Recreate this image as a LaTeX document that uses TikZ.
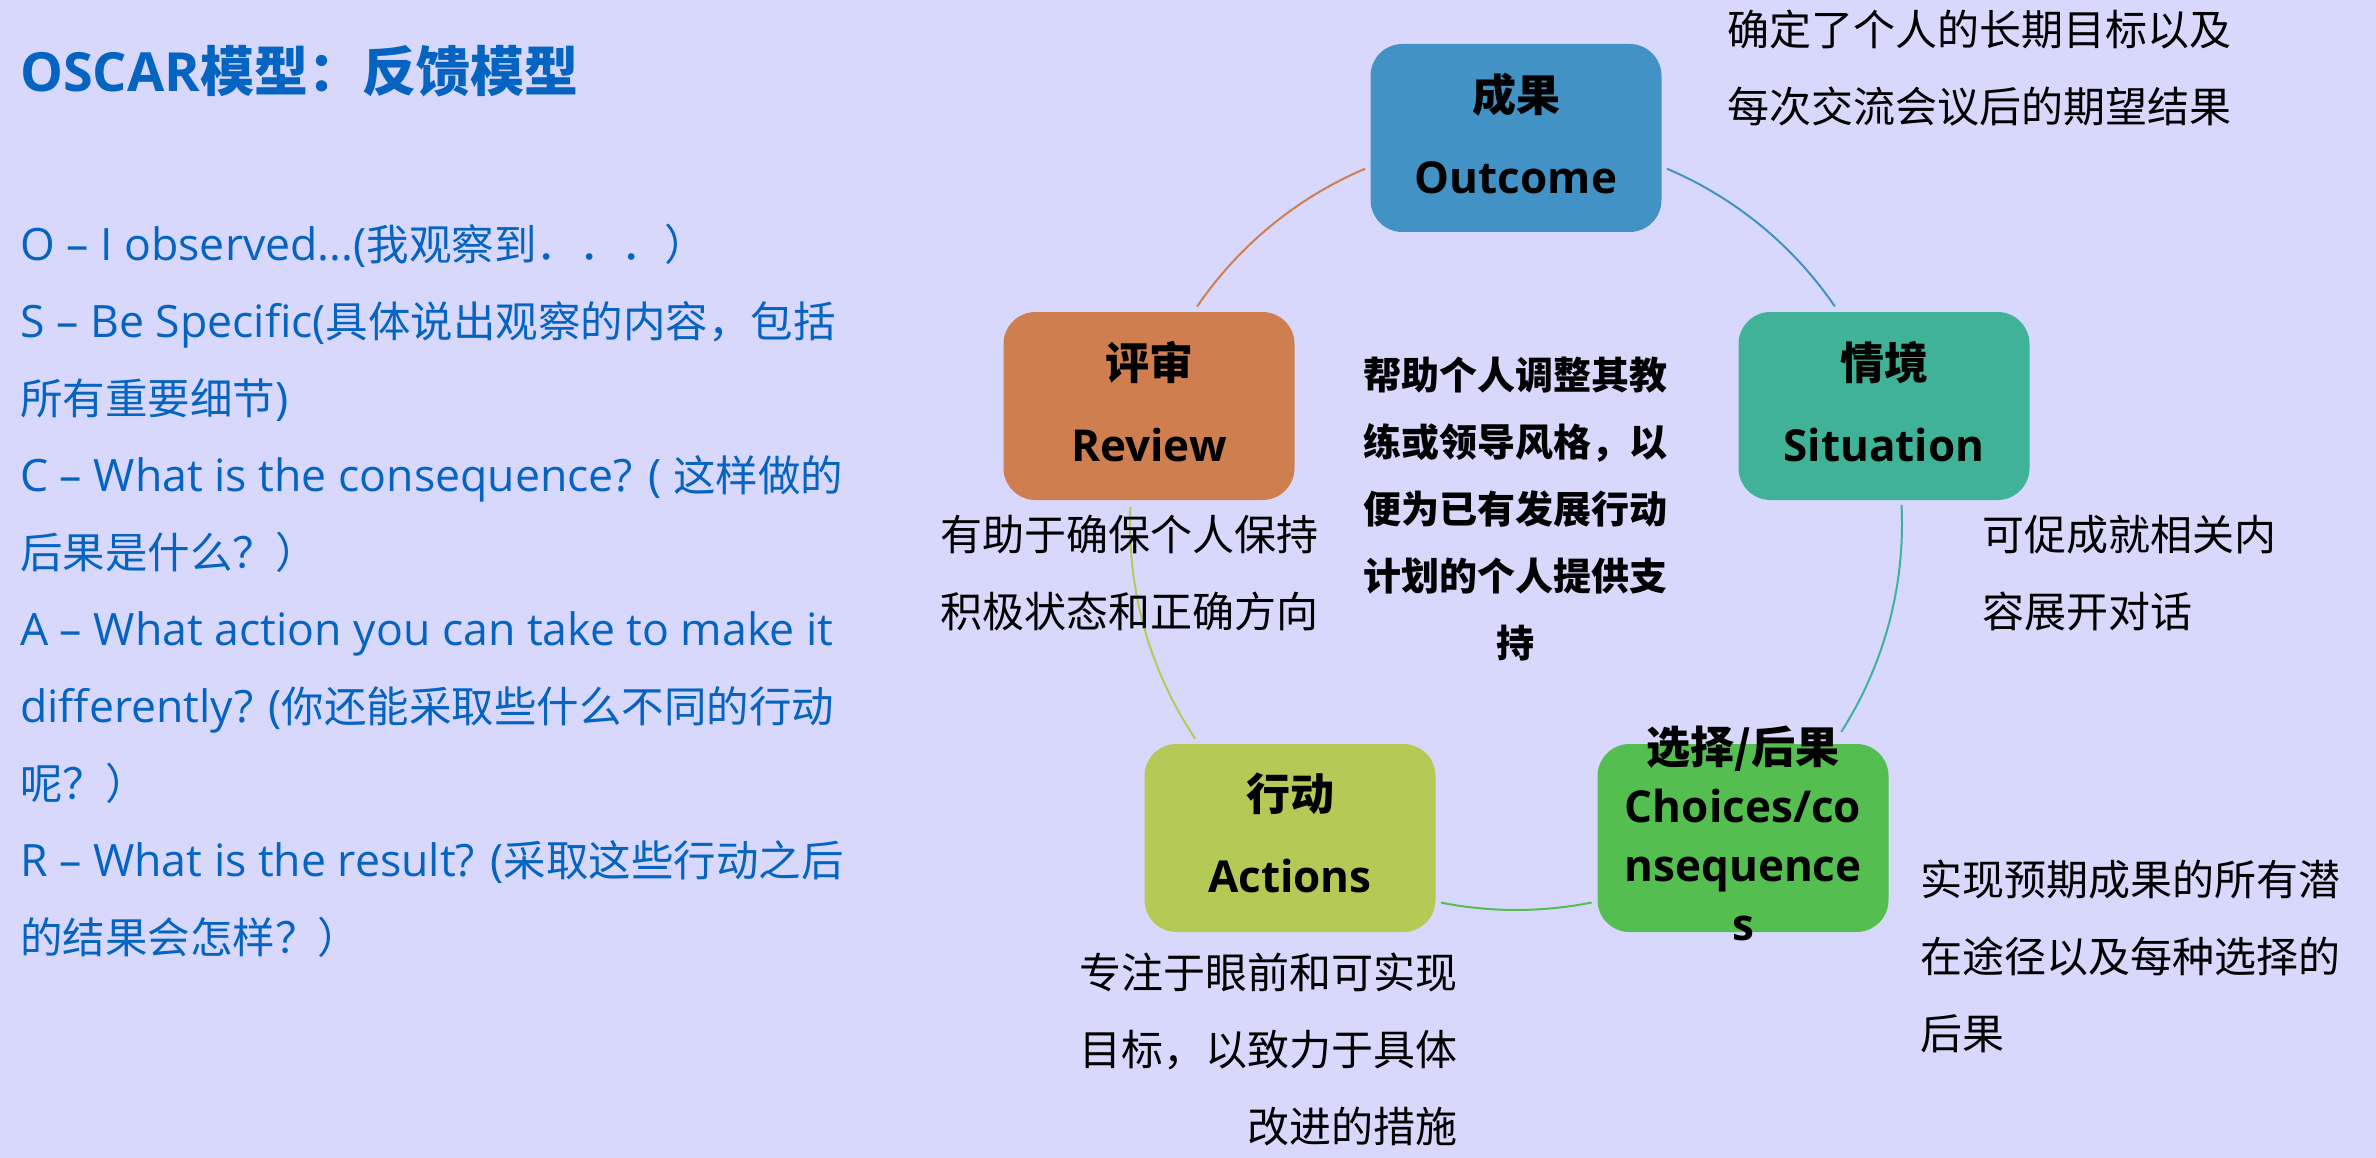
\documentclass[tikz,border=0pt]{standalone}
\usepackage{fontspec}
\setmainfont{Open Sans}
\newfontfamily\zhfont{Noto Sans CJK SC}
\newcommand\zh[1]{{\zhfont #1}}
\newcommand\zhl[1]{{\zhfont\fontsize{42.5}{77}\selectfont #1}}
\newcommand\lowpad{\rule[-10pt]{0pt}{10pt}}
\definecolor{bg}{RGB}{216,216,253}
\definecolor{tblue}{RGB}{5,99,193}
\definecolor{cOut}{RGB}{66,146,198}
\definecolor{cSit}{RGB}{64,178,151}
\definecolor{cRev}{RGB}{207,127,79}
\definecolor{cAct}{RGB}{181,201,86}
\definecolor{cCho}{RGB}{84,190,80}
\begin{document}
\begin{tikzpicture}[x=1pt,y=-1pt,
  box/.style={rounded corners=32pt, minimum width=291pt, minimum height=188pt,
    inner sep=0pt, align=center, text=black},
  boxfont/.style={font=\fontsize{44}{82}\selectfont\bfseries},
  desc/.style={inner sep=0pt, text=black, font=\fontsize{42}{77}\selectfont\zhfont},
  ringline/.style={line width=2pt}]
\path[use as bounding box, fill=bg] (0,0) rectangle (2376,1158);

% title and list
\node[anchor=base west, inner sep=0pt, text=tblue, font=\fontsize{54}{60}\selectfont\bfseries] (title) at (20,92) {OSCAR\zh{模型：反馈模型}};
\node[anchor=north west, inner sep=0pt, align=left, text=tblue, font=\fontsize{44.6}{77}\selectfont] (list) at (20,206) {\strut O – I observed...(\zhl{我观察到．．．）}\\
S – Be Specific(\zhl{具体说出观察的内容，包括}\\
\zhl{所有重要细节})\\
C – What is the consequence? ( \zhl{这样做的}\\
\zhl{后果是什么？）}\\
A – What action you can take to make it\\
differently? (\zhl{你还能采取些什么不同的行动}\\
\zhl{呢？）}\\
R – What is the result? (\zhl{采取这些行动之后}\\
\zhl{的结果会怎样？）}};

% ring
\coordinate (ring) at (1516,524);
\draw[ringline, cOut] (ring) ++(-67:386) coordinate (a1) arc[start angle=-67, end angle=-34.3, radius=386];
\draw[ringline, cSit] (ring) ++(-2.8:386) coordinate (a2) arc[start angle=-2.8, end angle=32.6, radius=386];
\draw[ringline, cCho] (ring) ++(78.7:386) coordinate (a3) arc[start angle=78.7, end angle=101.2, radius=386];
\draw[ringline, cAct] (ring) ++(146.2:386) coordinate (a4) arc[start angle=146.2, end angle=182.5, radius=386];
\draw[ringline, cRev] (ring) ++(214.3:386) coordinate (a5) arc[start angle=214.3, end angle=247, radius=386];

% boxes
\node[box, boxfont, fill=cOut] (out) at (1516,138) {\zh{成果}\\Outcome\lowpad};
\node[box, boxfont, fill=cSit] (sit) at (1884,406) {\zh{情境}\\Situation\lowpad};
\node[box, boxfont, fill=cRev] (rev) at (1149,406) {\zh{评审}\\Review\lowpad};
\node[box, boxfont, fill=cAct] (act) at (1290,838) {\zh{行动}\\Actions\lowpad};
\node[box, font=\fontsize{44}{59}\selectfont\bfseries, fill=cCho, inner ysep=-30pt] (cho) at (1743,838) {\zh{选择/后果}\\Choices/co\\nsequence\\s\lowpad};

% descriptions
\node[desc, anchor=north west, align=left] (dOut) at (1727,-8.4) {\strut 确定了个人的长期目标以及\\每次交流会议后的期望结果};
\node[desc, anchor=north west, align=left] (dSit) at (1982,496.6) {\strut 可促成就相关内\\容展开对话};
\node[desc, anchor=north west, align=left] (dCho) at (1920,841.6) {\strut 实现预期成果的所有潜\\在途径以及每种选择的\\后果};
\node[desc, anchor=north east, align=right] (dAct) at (1458,934.6) {\strut 专注于眼前和可实现\\目标，以致力于具体\\改进的措施};
\node[desc, anchor=north west, align=left] (dRev) at (940,496.6) {\strut 有助于确保个人保持\\积极状态和正确方向};
\node[inner sep=0pt, text=black, anchor=north, align=center, font=\fontsize{38}{67}\selectfont\zhfont\bfseries] (mid) at (1515,342) {\strut 帮助个人调整其教\\练或领导风格，以\\便为已有发展行动\\计划的个人提供支\\持};
\end{tikzpicture}
\end{document}
